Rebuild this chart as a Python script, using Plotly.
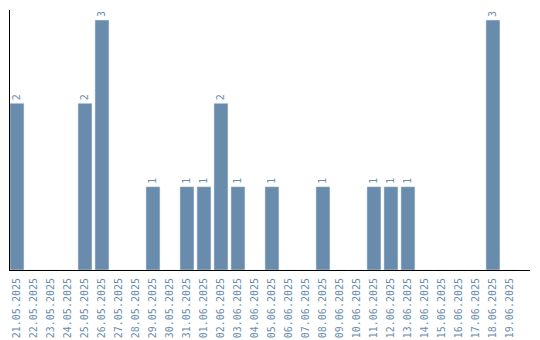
import plotly.graph_objects as go

dates = ["21.05.2025","22.05.2025","23.05.2025","24.05.2025","25.05.2025","26.05.2025",
         "27.05.2025","28.05.2025","29.05.2025","30.05.2025","31.05.2025","01.06.2025",
         "02.06.2025","03.06.2025","04.06.2025","05.06.2025","06.06.2025","07.06.2025",
         "08.06.2025","09.06.2025","10.06.2025","11.06.2025","12.06.2025","13.06.2025",
         "14.06.2025","15.06.2025","16.06.2025","17.06.2025","18.06.2025","19.06.2025"]
counts = [2,0,0,0,2,3,0,0,1,0,1,1,2,1,0,1,0,0,1,0,0,1,1,1,0,0,0,0,3,0]

labels = [str(c) if c > 0 else "" for c in counts]
color = "#6a8cac"

fig = go.Figure(go.Bar(
    x=list(range(len(dates))), y=counts, text=labels, textposition="outside",
    textangle=-90, cliponaxis=False, marker_color=color, width=14/17,
    offset=-7/17,
    textfont=dict(family="DejaVu Sans Mono", size=10, color=color),
))
fig.update_layout(
    width=540, height=340, margin=dict(l=10, r=10, t=10, b=70),
    paper_bgcolor="white", plot_bgcolor="white", showlegend=False,
    font=dict(family="DejaVu Sans Mono", size=10, color=color),
)
fig.update_xaxes(
    range=[-0.41, 30.18], tickmode="array", tickvals=list(range(len(dates))),
    ticktext=dates, tickangle=-90, showline=True, linecolor="black", linewidth=1,
    showgrid=False, zeroline=False, ticks="", automargin=False, ticklabelstandoff=3,
    tickfont=dict(family="DejaVu Sans Mono", size=10, color=color),
)
fig.update_yaxes(
    range=[0, 3.12], showline=True, linecolor="black", linewidth=1, showgrid=False,
    zeroline=False, showticklabels=False, ticks="", automargin=False,
)
fig.write_html("out.html")
